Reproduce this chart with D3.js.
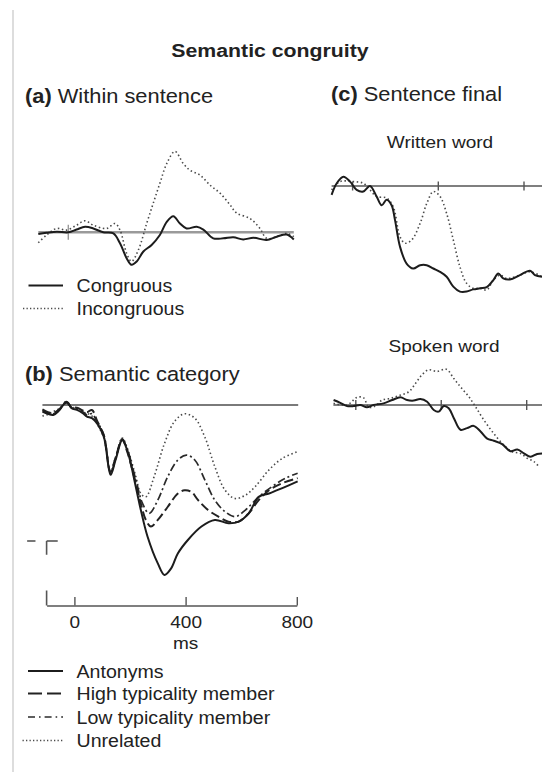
<!DOCTYPE html>
<html>
<head>
<meta charset="utf-8">
<script src="https://cdn.jsdelivr.net/npm/d3@7"></script>
<style>
html,body{margin:0;padding:0;background:#fff;}
svg{display:block;font-family:"Liberation Sans",Arial,Helvetica,sans-serif;}
</style>
</head>
<body>
<div id="chart"></div>
<script>
// ---------------- DATA (time in ms, amplitude in µV; positive plotted downward) ----------------
const titleText = "Semantic congruity";
const panelLabels = [["(a)", " Within sentence"], ["(b)", " Semantic category"], ["(c)", " Sentence final"]];
const subTitles = ["Written word", "Spoken word"];
const legendA = ["Congruous", "Incongruous"];
const legendB = ["Antonyms", "High typicality member", "Low typicality member", "Unrelated"];
const tickValuesB = [0, 400, 800];
const tickLabelsB = ["0", "400", "800"];
const axisUnit = "ms";
const calibrationUV = 2.5;

const aCongruous = [[-109,0.3],[-79,0.1],[-42,-0.1],[0,0],[30,-0.5],[61,-1.0],[91,-0.7],[127,0],[164,0.2],[188,2.0],[212,4.7],[230,5.9],[249,5.3],[273,3.5],[303,2.3],[333,0.5],[358,-1.9],[382,-2.9],[406,-1.6],[430,-0.7],[467,-1.0],[491,-0.5],[527,1.1],[564,1.1],[600,0.9],[636,1.3],[673,1.0],[721,1.4],[758,0.8],[794,0.4],[820,1.3]];
const aIncongruous = [[-109,1.9],[-79,0.5],[-42,-0.7],[-6,-0.4],[30,-1.3],[61,-2.1],[91,-1.3],[139,-0.7],[170,-1.6],[188,-0.4],[212,3.8],[230,5.3],[255,3.2],[285,-1.6],[309,-5.3],[333,-8.9],[358,-12.5],[388,-14.7],[418,-12.5],[442,-11.3],[479,-10.4],[515,-8.6],[552,-7.1],[588,-5.0],[612,-3.5],[661,-2.5],[697,-0.7],[721,1.1],[758,0.8],[794,0.2],[820,0.8]];

const bAntonyms = [[-115,1.2],[-95,1.6],[-76,1.8],[-55,1.0],[-28,-0.6],[-10,0.6],[9,0.9],[30,1.5],[45,2.1],[63,2.4],[81,3.3],[106,5.8],[130,12.7],[148,10.0],[172,6.4],[190,8.2],[221,14.9],[239,19.1],[263,23.9],[300,28.8],[324,30.9],[348,29.7],[372,27.0],[409,24.5],[457,22.1],[505,20.9],[554,21.5],[591,21.2],[627,19.7],[663,16.7],[700,16.1],[748,15.1],[803,13.9]];
const bHighTypicality = [[-115,0.8],[-95,1.3],[-76,1.5],[-55,0.8],[-28,-0.4],[-10,0.4],[9,0.5],[30,1.0],[45,1.3],[63,0.9],[81,2.8],[106,5.6],[130,12.2],[148,9.6],[172,6.2],[190,8.5],[221,14.2],[239,17.9],[257,20.9],[275,22.1],[300,20.9],[336,18.5],[372,16.1],[396,15.5],[421,15.8],[445,17.3],[481,19.1],[518,20.3],[554,21.2],[591,21.2],[627,19.7],[663,17.3],[700,15.5],[748,14.2],[803,13.3]];
const bLowTypicality = [[-115,1.0],[-95,1.4],[-76,1.6],[-55,0.9],[-28,-0.7],[-10,0.5],[9,0.7],[30,1.2],[45,1.8],[63,1.6],[81,3.0],[106,5.4],[130,12.4],[148,9.8],[172,6.3],[190,8.0],[221,13.6],[245,17.9],[269,19.7],[300,17.3],[336,13.0],[372,10.0],[403,9.1],[433,10.0],[469,13.6],[505,17.3],[542,19.4],[578,20.3],[615,19.1],[663,16.7],[712,14.8],[760,13.3],[803,12.4]];
const bUnrelated = [[-115,2.0],[-95,1.7],[-76,1.2],[-55,0.7],[-28,-0.5],[-10,0.4],[9,0.6],[30,1.3],[45,1.5],[63,2.0],[81,3.4],[106,6.0],[130,12.0],[148,9.5],[172,6.0],[190,7.8],[221,13.0],[239,16.1],[257,16.7],[287,13.0],[324,7.0],[360,3.0],[396,1.6],[433,2.4],[469,5.8],[505,11.2],[542,15.5],[578,17.0],[615,16.4],[651,14.8],[700,11.8],[748,9.7],[803,8.5]];

const cWrittenCongruous = [[-98,1.6],[-74,-0.5],[-43,-1.7],[-12,-0.8],[19,0.7],[50,1.0],[81,0],[112,1.9],[136,3.5],[159,2.5],[182,3.5],[198,6.2],[221,11.0],[252,14.1],[283,15.0],[315,14.4],[346,14.4],[377,15.0],[408,15.6],[439,16.5],[470,18.3],[501,19.2],[532,19.2],[563,18.8],[595,18.6],[626,18.4],[657,17.1],[680,15.9],[703,16.8],[734,17.0],[781,16.2],[828,15.4],[851,16.2],[884,16.5]];
const cWrittenIncongruous = [[-98,0.7],[-59,-0.8],[3,-0.8],[50,-0.5],[81,0.7],[112,1.9],[159,2.2],[190,3.8],[221,9.2],[245,10.4],[276,9.8],[315,6.8],[346,3.2],[377,1.0],[408,1.9],[439,5.0],[470,9.8],[501,14.7],[532,17.7],[563,18.6],[595,18.6],[626,18.9],[657,17.1],[688,16.2],[719,16.8],[781,16.2],[828,15.6],[884,16.5]];
const cSpokenCongruous = [[-104,-0.9],[-73,-0.4],[-41,0.2],[-10,0.2],[21,0],[52,0.4],[83,0],[130,-0.3],[170,-0.9],[209,-1.4],[240,-0.9],[271,-0.8],[302,-1.1],[334,-0.6],[365,0.9],[388,1.2],[412,0.2],[435,0.6],[459,2.4],[490,4.5],[521,4.2],[552,3.8],[584,4.8],[615,6.1],[646,6.5],[685,7.1],[724,8.4],[756,8.1],[787,8.8],[818,9.4],[849,8.9],[874,8.8]];
const cSpokenIncongruous = [[-104,-0.3],[-41,0],[6,-1.4],[37,-1.3],[60,0.4],[91,0.2],[123,-0.9],[162,-1.2],[209,-1.8],[248,-2.4],[279,-3.9],[310,-5.5],[341,-6.4],[381,-6.1],[424,-6.5],[459,-4.8],[490,-3.3],[529,-1.5],[560,0.3],[599,2.7],[646,5.2],[693,7.3],[732,8.5],[771,8.8],[803,9.7],[834,10.3],[857,11.2]];

// ---------------- LAYOUT / STYLE ----------------
const W = 542, H = 772;
const SX = 1.12; // horizontal text stretch of the source figure
const styles = {
  solid:   {stroke:"#1c1c1c", width:2.0, dash:null,        legendDash:null},
  dotted:  {stroke:"#4a4a4a", width:1.6, dash:"1.5,2.6",   legendDash:"1.3,2.2"},
  dashed:  {stroke:"#222",    width:2.0, dash:"9,4",       legendDash:"14,5"},
  dashdot: {stroke:"#2a2a2a", width:1.7, dash:"8,3,2,3",   legendDash:"7,4,1.6,4"}
};

const svg = d3.select("#chart").append("svg").attr("width", W).attr("height", H);

// left page border
svg.append("line").attr("x1",13).attr("x2",13).attr("y1",10).attr("y2",H)
  .attr("stroke","#d2d2d2").attr("stroke-width",1.5);

function label(x, y, parts, size, anchor) {
  const t = svg.append("text")
    .attr("transform", `translate(${x},${y}) scale(${SX},1)`)
    .attr("font-size", size).attr("text-anchor", anchor || "start").attr("fill", "#222");
  parts.forEach(p => t.append("tspan").attr("font-weight", p.b ? "bold" : "normal").text(p.t));
  return t;
}

function panel(cfg) {
  const x = d3.scaleLinear().domain([0, 800]).range(cfg.xr);
  const y = d3.scaleLinear().domain([0, 10]).range([cfg.base, cfg.base + 55]);
  const g = svg.append("g");
  g.append("line").attr("x1", x(cfg.ext[0])).attr("x2", x(cfg.ext[1]))
    .attr("y1", y(0)).attr("y2", y(0))
    .attr("stroke", cfg.baseColor).attr("stroke-width", cfg.baseWidth);
  g.selectAll("line.tick").data(cfg.ticks).join("line").attr("class","tick")
    .attr("x1", d => x(d)).attr("x2", d => x(d))
    .attr("y1", y(0) - cfg.tickLen).attr("y2", y(0) + cfg.tickLen)
    .attr("stroke", cfg.baseColor).attr("stroke-width", 1.4);
  const line = d3.line().x(d => x(d[0])).y(d => y(d[1])).curve(d3.curveCatmullRom.alpha(0.5));
  cfg.series.forEach(s => {
    const st = styles[s.style];
    g.append("path").datum(s.data).attr("d", line).attr("fill","none")
      .attr("stroke", st.stroke).attr("stroke-width", st.width)
      .attr("stroke-dasharray", st.dash).attr("stroke-linejoin","round");
  });
  return {x, y};
}

// ---------------- TITLES ----------------
label(270, 57, [{t:titleText, b:true}], 19, "middle");
label(25, 103, [{t:panelLabels[0][0], b:true},{t:panelLabels[0][1]}], 19.5);
label(331, 101, [{t:panelLabels[2][0], b:true},{t:panelLabels[2][1]}], 19.5);
label(25, 381, [{t:panelLabels[1][0], b:true},{t:panelLabels[1][1]}], 19.5);
label(440, 148, [{t:subTitles[0]}], 17, "middle");
label(444, 352, [{t:subTitles[1]}], 17, "middle");

// ---------------- PANEL A ----------------
panel({xr:[68.3, 288.3], base:232.3, ext:[-109, 820], ticks:[0], tickLen:7.5,
  baseColor:"#9a9a9a", baseWidth:2.4,
  series:[{data:aIncongruous, style:"dotted"}, {data:aCongruous, style:"solid"}]});

// ---------------- PANEL B ----------------
const pB = panel({xr:[74.4, 296.8], base:405, ext:[-115, 805], ticks:[], tickLen:0,
  baseColor:"#7a7a7a", baseWidth:1.8,
  series:[{data:bUnrelated, style:"dotted"}, {data:bLowTypicality, style:"dashdot"},
          {data:bHighTypicality, style:"dashed"}, {data:bAntonyms, style:"solid"}]});

// bottom time axis for panel B
const axisY = 605.5;
const xAxisScale = pB.x.copy().domain([-100, 800]).range([pB.x(-100), pB.x(800)]);
const axG = svg.append("g").attr("transform", `translate(0,${axisY})`)
  .call(d3.axisBottom(xAxisScale).tickValues(tickValuesB)
    .tickFormat((d,i) => tickLabelsB[i]).tickSizeInner(-8.5).tickSizeOuter(0).tickPadding(9.5));
axG.select(".domain").attr("stroke","#555").attr("stroke-width",1.6);
axG.selectAll(".tick line").attr("stroke","#555").attr("stroke-width",1.4);
axG.selectAll(".tick text").attr("font-size",17).attr("fill","#222")
  .attr("font-family",'"Liberation Sans",Arial,sans-serif')
  .attr("transform", `scale(${SX},1)`).attr("dy","0.76em");
axG.append("line").attr("x1", pB.x(-100)).attr("x2", pB.x(-100)).attr("y1", -15).attr("y2", 0)
  .attr("stroke","#555").attr("stroke-width",1.6);
label(pB.x(400), 649, [{t:axisUnit}], 17, "middle");

// calibration mark
const calTop = 541;
const calLen = pB.y(calibrationUV) - pB.y(0);
svg.append("line").attr("x1", pB.x(-100)).attr("x2", pB.x(-100)).attr("y1", calTop).attr("y2", calTop + calLen)
  .attr("stroke","#555").attr("stroke-width",1.6);
svg.append("line").attr("x1", pB.x(-100)).attr("x2", pB.x(-60)).attr("y1", calTop).attr("y2", calTop)
  .attr("stroke","#555").attr("stroke-width",1.6);
svg.append("line").attr("x1", pB.x(-170)).attr("x2", pB.x(-140)).attr("y1", calTop).attr("y2", calTop)
  .attr("stroke","#555").attr("stroke-width",1.6);

// ---------------- PANEL C ----------------
panel({xr:[352.6, 524.0], base:186, ext:[-98, 890], ticks:[0, 400, 800], tickLen:4.5,
  baseColor:"#555", baseWidth:1.5,
  series:[{data:cWrittenIncongruous, style:"dotted"}, {data:cWrittenCongruous, style:"solid"}]});
panel({xr:[355.8, 526.7], base:405, ext:[-105, 880], ticks:[0, 400, 800], tickLen:5,
  baseColor:"#555", baseWidth:1.5,
  series:[{data:cSpokenIncongruous, style:"dotted"}, {data:cSpokenCongruous, style:"solid"}]});

// ---------------- LEGENDS ----------------
function legend(items, stylesList, ys, x1s) {
  items.forEach((name, i) => {
    const st = styles[stylesList[i]];
    svg.append("line").attr("x1", x1s[i]).attr("x2", 63).attr("y1", ys[i]).attr("y2", ys[i])
      .attr("stroke", st.stroke).attr("stroke-width", st.width).attr("stroke-dasharray", st.legendDash);
    label(76.5, ys[i] + 6.6, [{t:name}], 17.5);
  });
}
legend(legendA, ["solid","dotted"], [285.5, 308.5], [28.5, 23]);
legend(legendB, ["solid","dashed","dashdot","dotted"], [671, 693.5, 717, 740.5], [28, 28, 28, 22.5]);
</script>
</body>
</html>
